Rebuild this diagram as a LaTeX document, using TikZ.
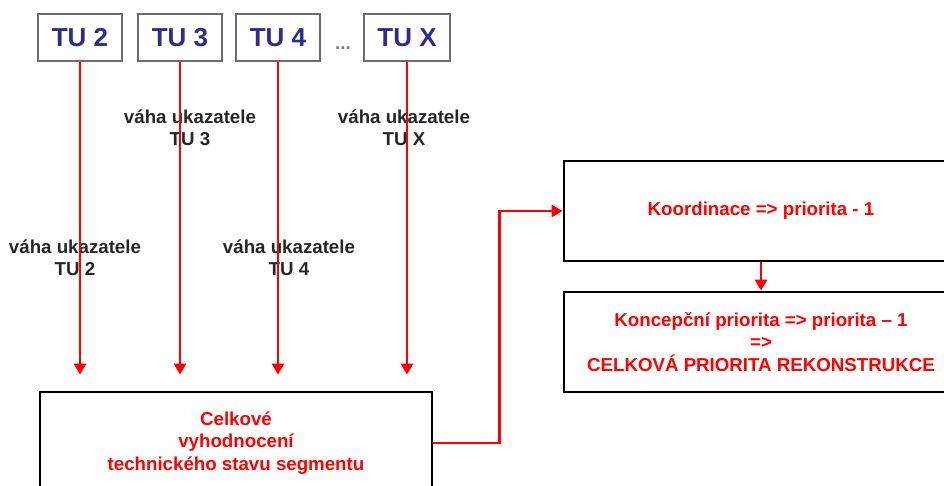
\documentclass[tikz,border=0pt]{standalone}
\usepackage{fontspec}
\setmainfont{Liberation Sans}
\usetikzlibrary{arrows.meta,calc}
\definecolor{tublue}{RGB}{43,45,145}
\definecolor{flowred}{RGB}{255,0,0}
\begin{document}
\begin{tikzpicture}[x=1pt,y=-1pt,
  tubox/.style={draw=gray!85!black, line width=1.8pt, minimum width=84pt, minimum height=47pt,
    inner sep=0pt, font=\fontsize{26}{28}\selectfont\bfseries, text=tublue},
  bigbox/.style={draw=black, line width=2.8pt, minimum height=100pt, inner sep=0pt,
    align=center, text=flowred, font=\fontsize{18.7}{22.5}\selectfont\bfseries},
  weightlbl/.style={align=center, inner sep=0pt, font=\fontsize{18.7}{22}\selectfont\bfseries, text=black!85},
  flow/.style={draw=flowred, line width=2.8pt, -{Triangle[width=12pt,length=11pt]}}
]
\useasboundingbox (0,0) rectangle (944,486);
\clip (0,0) rectangle (944,486);

% indicator boxes
\node[tubox] (tu2) at (80,37.5) {TU 2};
\node[tubox] (tu3) at (180,37.5) {TU 3};
\node[tubox] (tu4) at (278,37.5) {TU 4};
\node[tubox, minimum width=86pt] (tux) at (407,37.5) {TU X};
\node[inner sep=0pt, text=gray, font=\fontsize{18.7}{22}\selectfont\bfseries] (dots) at (343,48) {...};

% evaluation and priority boxes
\node[bigbox, minimum width=392pt, minimum height=102pt] (ev) at (236,443)
  {Celkové\\vyhodnocení\\technického stavu segmentu};
\node[bigbox, minimum width=394pt] (koord) at (761,211) {Koordinace => priorita - 1};
\node[bigbox, minimum width=394pt] (konc) at (761,342)
  {Koncepční priorita => priorita – 1\\=>\\CELKOVÁ PRIORITA REKONSTRUKCE};

% weight labels
\node[weightlbl] (w3) at (190,128) {váha ukazatele\\TU 3};
\node[weightlbl] (wx) at (404,128) {váha ukazatele\\TU X};
\node[weightlbl] (w2) at (75,258) {váha ukazatele\\TU 2};
\node[weightlbl] (w4) at (289,258) {váha ukazatele\\TU 4};

% weighted inputs into the evaluation
\foreach \t in {tu2,tu3,tu4,tux}
  \draw[flow, shorten >=16pt] (\t.south) -- (\t.south |- ev.north);

% evaluation to coordination, then to final priority
\draw[flow] (ev.east) -- ++(66,0) |- (koord.west);
\draw[flow] (koord.south) -- (konc.north);
\end{tikzpicture}
\end{document}
